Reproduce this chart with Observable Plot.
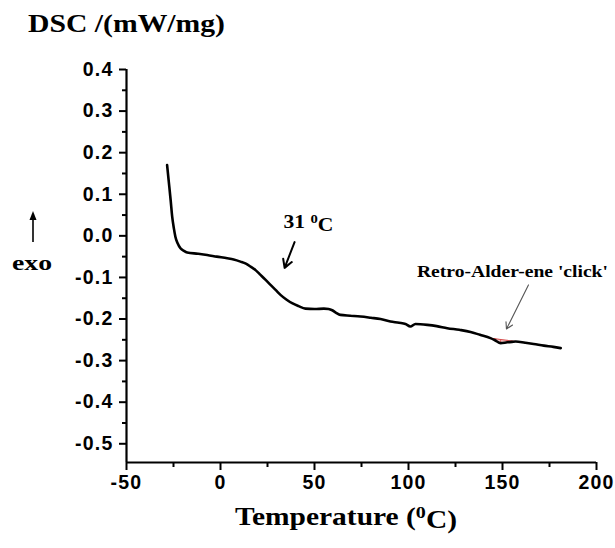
<!DOCTYPE html>
<html><head><meta charset="utf-8">
<script src="https://cdn.jsdelivr.net/npm/d3@7"></script>
<script src="https://cdn.jsdelivr.net/npm/@observablehq/plot@0.6"></script>
<style>
body{margin:0;background:#fff;}
#chart svg{background:#fff;}
</style>
</head><body><div id="chart"></div>
<script>
// ---- data ----
const temperature = [-28.4, -27.5, -26.5, -25.7, -24.8, -24, -22.8, -21.3, -19.5, -17.7, -12, -7.1, -2, 3.6, 7, 10.6, 13.5, 16, 18.8, 21.3, 24, 26.6, 29.3, 31.9, 35, 38.1, 41.5, 45.2, 50, 55, 57.5, 59.4, 61.5, 63.8, 69, 74.5, 80, 85.1, 90.4, 95, 98.4, 101, 103.7, 110, 115, 120.6, 127, 133, 138, 143.6, 146, 149, 152.5, 155, 157, 162, 166.6, 172, 177, 181];
const dsc = [0.170, 0.13, 0.085, 0.046, 0.018, -0.002, -0.018, -0.030, -0.036, -0.040, -0.043, -0.046, -0.050, -0.054, -0.057, -0.062, -0.067, -0.074, -0.083, -0.094, -0.106, -0.118, -0.130, -0.142, -0.153, -0.162, -0.169, -0.175, -0.176, -0.175, -0.176, -0.179, -0.185, -0.190, -0.192, -0.194, -0.197, -0.200, -0.206, -0.209, -0.212, -0.218, -0.212, -0.214, -0.217, -0.222, -0.226, -0.231, -0.238, -0.246, -0.251, -0.258, -0.256, -0.255, -0.254, -0.257, -0.260, -0.264, -0.267, -0.270];
const xTicks = [-50, 0, 50, 100, 150, 200];
const xMinorTicks = [-25, 25, 75, 125, 175];
const yTicks = [0.4, 0.3, 0.2, 0.1, 0.0, -0.1, -0.2, -0.3, -0.4, -0.5];
const yMinorTicks = [0.35, 0.25, 0.15, 0.05, -0.05, -0.15, -0.25, -0.35, -0.45];
const xDomain = [-50, 200];
const yDomain = [-0.545, 0.4];
// click (retro-Alder-ene) baseline chord end points
const clickBase = [[143.6, -0.246], [157, -0.254]];
// annotations
const glassArrow = [{x1: 39.4, y1: -0.015, x2: 34.1, y2: -0.077}];
const clickArrow = [{x1: 163.8, y1: -0.118, x2: 152.1, y2: -0.224}];
const notes = [
  {x: 46.8, y: 0.033, text: "31 \u2070C"},
  {x: 155.3, y: -0.087, text: "Retro-Alder-ene 'click'"}
];
const yTitle = "DSC /(mW/mg)";
const xTitle = "Temperature (\u2070C)";
const exoLabel = "exo";

// ---- build ----
const data = temperature.map((t, i) => ({t, v: dsc[i]}));
const [b0, b1] = clickBase;
const hatch = data.filter(d => d.t >= b0[0] && d.t <= b1[0])
  .map(d => ({t: d.t, v: d.v, b: b0[1] + (d.t - b0[0]) / (b1[0] - b0[0]) * (b1[1] - b0[1])}));

const serif = "'Liberation Serif','Times New Roman',serif";
const sans = "'Liberation Sans',Arial,sans-serif";

const chart = Plot.plot({
  width: 615,
  height: 548,
  marginLeft: 126,
  marginRight: 19,
  marginTop: 69,
  marginBottom: 86,
  style: {fontFamily: sans, fontSize: "19px", fontWeight: "bold", background: "#fff", color: "#000"},
  x: {domain: xDomain},
  y: {domain: yDomain},
  marks: [
    Plot.areaY(hatch, {x: "t", y1: "b", y2: "v", fill: "#f5c8c8"}),
    Plot.ruleX(hatch, {x: "t", y1: "b", y2: "v", stroke: "#e05050", strokeWidth: 0.9}),
    Plot.line(hatch, {x: "t", y: "b", stroke: "#d04040", strokeWidth: 0.9}),
    Plot.line(data, {x: "t", y: "v", stroke: "#000", strokeWidth: 2.6, curve: "monotone-x"}),
    Plot.ruleX([xDomain[0]], {stroke: "#000", strokeWidth: 2.2}),
    Plot.ruleY([yDomain[0]], {stroke: "#000", strokeWidth: 2.2}),
    Plot.axisY(yTicks, {tickSize: 7, tickPadding: 6, strokeWidth: 2, tickFormat: d => d.toFixed(1), label: null, fontSize: 19.5, fontWeight: "bold"}),
    Plot.axisY(yMinorTicks, {tickSize: 4, strokeWidth: 2, tickFormat: () => "", label: null}),
    Plot.axisX(xTicks, {tickSize: 8, tickPadding: 5, strokeWidth: 2, tickFormat: d => String(d), label: null, fontSize: 19.5, fontWeight: "bold"}),
    Plot.axisX(xMinorTicks, {tickSize: 5, strokeWidth: 2, tickFormat: () => "", label: null}),
    Plot.arrow(glassArrow, {x1: "x1", y1: "y1", x2: "x2", y2: "y2", stroke: "#000", strokeWidth: 2, headLength: 9}),
    Plot.arrow(clickArrow, {x1: "x1", y1: "y1", x2: "x2", y2: "y2", stroke: "#555", strokeWidth: 1.1, headLength: 10}),
    Plot.text(notes, {x: "x", y: "y", text: "text", fontSize: 19, fontFamily: serif, fontWeight: "bold", fill: "#000", textAnchor: "middle"})
  ]
});

document.getElementById("chart").appendChild(chart);
const svg = d3.select(chart);

// widen the tick label letters like the reference
svg.selectAll('g[aria-label="y-axis tick label"] text, g[aria-label="x-axis tick label"] text')
  .attr("letter-spacing", "1.2px");

// the reference's serif texts are horizontally stretched
const stretch = {"31 \u2070C": 50, "Retro-Alder-ene 'click'": 191};
svg.selectAll("text").each(function() {
  const t = d3.select(this).text();
  if (stretch[t]) d3.select(this).attr("textLength", stretch[t]).attr("lengthAdjust", "spacingAndGlyphs");
});
svg.selectAll("text").filter(function() { return d3.select(this).text() === "Retro-Alder-ene 'click'"; })
  .attr("font-size", 17);

// superscript helper
function superscriptZero(sel) {
  sel.each(function() {
    const node = d3.select(this);
    const txt = node.text();
    if (!txt.includes("\u2070")) return;
    const [a, b] = txt.split("\u2070");
    node.text(null);
    node.append("tspan").text(a);
    node.append("tspan").attr("dy", "-0.42em").attr("font-size", "68%").text("0");
    node.append("tspan").attr("dy", "0.42em").text(b);
  });
}
superscriptZero(svg.selectAll("text"));

// titles outside the frame
svg.append("text").attr("x", 28).attr("y", 32).attr("text-anchor", "start")
  .attr("font-family", serif).attr("font-size", 25).attr("font-weight", "bold").attr("fill", "#000")
  .attr("textLength", 197).attr("lengthAdjust", "spacingAndGlyphs")
  .text(yTitle);

const xt = svg.append("text").attr("x", 346).attr("y", 525).attr("text-anchor", "middle")
  .attr("font-family", serif).attr("font-size", 25).attr("font-weight", "bold").attr("fill", "#000")
  .attr("textLength", 222).attr("lengthAdjust", "spacingAndGlyphs")
  .text(xTitle);
superscriptZero(xt);

svg.append("text").attr("x", 12).attr("y", 270).attr("text-anchor", "start")
  .attr("font-family", serif).attr("font-size", 22).attr("font-weight", "bold").attr("fill", "#000")
  .attr("textLength", 40).attr("lengthAdjust", "spacingAndGlyphs")
  .text(exoLabel);
svg.append("line").attr("x1", 33).attr("x2", 33).attr("y1", 242).attr("y2", 218)
  .attr("stroke", "#000").attr("stroke-width", 1.6);
svg.append("path").attr("d", "M33,211 L29.5,220 L36.5,220 Z").attr("fill", "#000");
</script>
</body></html>
